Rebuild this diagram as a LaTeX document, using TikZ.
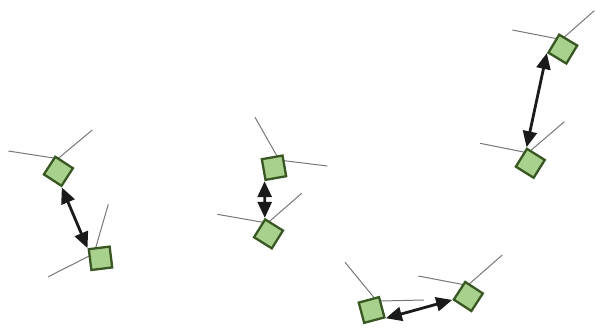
\documentclass[tikz,border=0pt]{standalone}
\usetikzlibrary{arrows.meta}
\definecolor{posefill}{HTML}{A9D18E}
\definecolor{poseedge}{HTML}{385723}
\definecolor{raygray}{HTML}{777777}
\definecolor{linkblack}{HTML}{1A1A1A}
\begin{document}
\begin{tikzpicture}[x=1pt,y=-1pt,
  pose/.style={rectangle, draw=poseedge, fill=posefill, line width=2.3pt, minimum size=21pt, inner sep=0pt},
  ray/.style={draw=raygray, line width=1pt},
  link/.style={draw=linkblack, line width=2.8pt, {Triangle[length=16pt,width=14pt]}-{Triangle[length=16pt,width=14pt]}}]
\useasboundingbox (0,0) rectangle (595,329);

% origins and ray ends
\coordinate (oA1) at (57.9,158.7); \coordinate (eA1a) at (8.3,151);   \coordinate (eA1b) at (92.3,130);
\coordinate (oA2) at (94,253.6);   \coordinate (eA2a) at (48.3,276.7); \coordinate (eA2b) at (108.3,204.3);
\coordinate (oB1) at (279.3,160.1);\coordinate (eB1a) at (255,117.3);  \coordinate (eB1b) at (327.3,166);
\coordinate (oB2) at (267.5,223.1);\coordinate (eB2a) at (217.3,214.3);\coordinate (eB2b) at (301.7,193.3);
\coordinate (oC1) at (376.9,301.1);\coordinate (eC1a) at (345,262.3);  \coordinate (eC1b) at (424,300);
\coordinate (oC2) at (467.6,285.4);\coordinate (eC2a) at (418.3,276);  \coordinate (eC2b) at (502.3,255);
\coordinate (oD1) at (561.5,39.6); \coordinate (eD1a) at (512.3,30);   \coordinate (eD1b) at (594.3,10.7);
\coordinate (oD2) at (528,152.9);  \coordinate (eD2a) at (480,143.3);  \coordinate (eD2b) at (564.3,121.7);

\foreach \p in {A1,A2,B1,B2,C1,C2,D1,D2}{
  \draw[ray] (e\p a) -- (o\p) -- (e\p b);
}

% poses
\node[pose, rotate=-33] (A1) at (58.4,171.3) {};
\node[pose, rotate=7]   (A2) at (100.5,258.3) {};
\node[pose, rotate=10]  (B1) at (274,167.7) {};
\node[pose, rotate=-32] (B2) at (268.5,233.9) {};
\node[pose, rotate=15]  (C1) at (371.6,310) {};
\node[pose, rotate=-33] (C2) at (468.3,296.5) {};
\node[pose, rotate=-31] (D1) at (562.8,49.1) {};
\node[pose, rotate=-32] (D2) at (530.3,163.3) {};

% links
\draw[link] (A1.south east) -- (A2.north west);
\draw[link] (B1.south west) -- (B2.north west);
\draw[link] (C1.south east) -- (C2.south west);
\draw[link] (D1.south west) -- (D2.north west);
\end{tikzpicture}
\end{document}
